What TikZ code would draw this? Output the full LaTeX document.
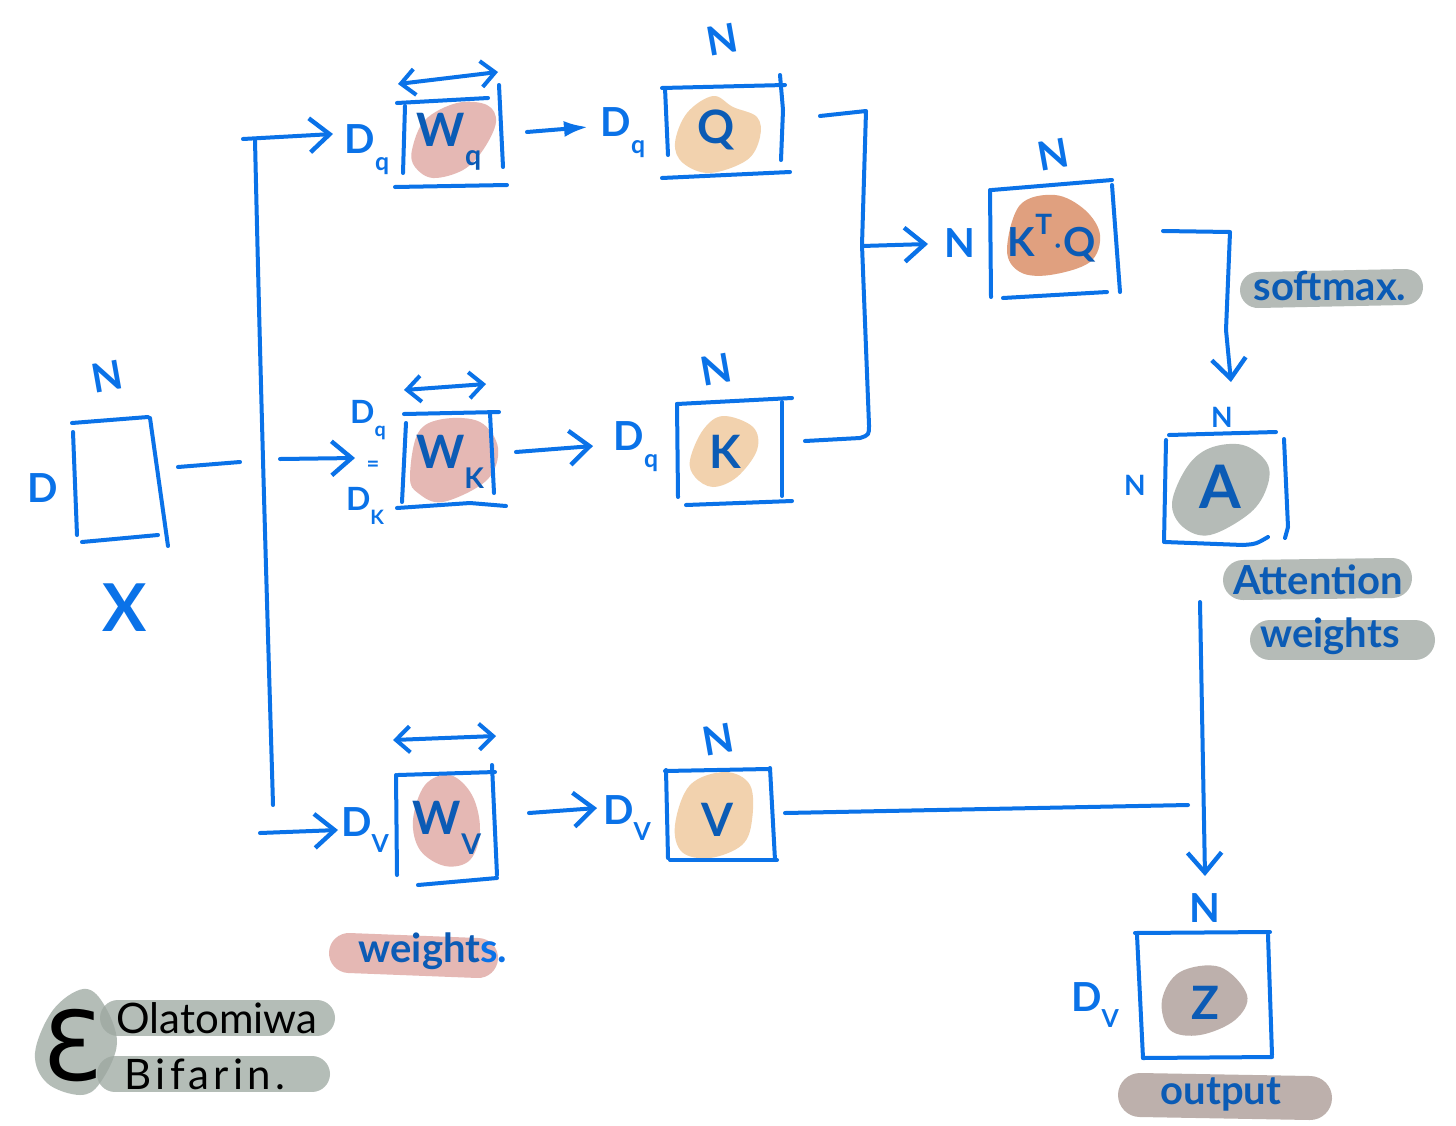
\documentclass[tikz,border=0pt]{standalone}
\usepackage{fontspec}
\setmainfont{Lato}
\usetikzlibrary{arrows.meta}
\definecolor{penblue}{HTML}{0A72E8}
\definecolor{inkblue}{HTML}{0B5BB5}
\definecolor{pinkblob}{HTML}{E5B8B4}
\definecolor{sandblob}{HTML}{F2D2AE}
\definecolor{clayblob}{HTML}{E0A07F}
\definecolor{greyblob}{HTML}{B5BBB7}
\definecolor{greybase}{HTML}{9CA7A0}
\definecolor{taupeblob}{HTML}{BDB0AC}
\newcommand{\lowtxt}[1]{\raisebox{-.42em}{\scalebox{.62}{#1}}}
\tikzset{
  x=0.5pt,y=-0.5pt,
  pen/.style={draw=penblue,line width=2pt,line cap=round,line join=round},
  flow/.style={pen,-{Straight Barb[length=10pt,width=17pt,line width=2.2pt]}},
  span/.style={pen,{Straight Barb[length=7pt,width=13pt]}-{Straight Barb[length=7pt,width=13pt]}},
  blob/.style={fill=#1,draw=none},
  pill/.style n args={2}{draw=#1,line width=#2,line cap=round},
  dim/.style={text=penblue,font=\bfseries\fontsize{20}{20}\selectfont,inner sep=0pt},
  big/.style={text=inkblue,font=\bfseries\fontsize{23}{23}\selectfont,inner sep=0pt},
  tag/.style={text=inkblue,font=\bfseries\fontsize{20}{20}\selectfont,inner sep=0pt},
  author/.style={text=black,font=\fontsize{21}{21}\selectfont,inner sep=0pt},
}
\begin{document}
\begin{tikzpicture}
\useasboundingbox (0,0) rectangle (1456,1125);
\fill[white] (0,0) rectangle (1456,1125);

% coloured blobs
\fill[blob=pinkblob] plot[smooth cycle,tension=.6] coordinates {(412,150)(425,120)(457,103)(487,105)(496,122)(483,150)(463,170)(433,178)(415,167)};
\fill[blob=sandblob] plot[smooth cycle,tension=.6] coordinates {(675,143)(687,113)(713,96)(733,107)(757,117)(760,137)(747,160)(710,173)(683,163)};
\fill[blob=pinkblob] plot[smooth cycle,tension=.6] coordinates {(410,477)(418,433)(443,419)(480,422)(498,448)(487,480)(443,502)(418,493)};
\fill[blob=sandblob] plot[smooth cycle,tension=.6] coordinates {(690,460)(703,430)(723,416)(753,427)(757,450)(737,477)(713,487)(695,477)};
\fill[blob=pinkblob] plot[smooth cycle,tension=.6] coordinates {(413,820)(425,785)(450,775)(472,795)(480,830)(470,860)(445,866)(420,850)};
\fill[blob=sandblob] plot[smooth cycle,tension=.6] coordinates {(675,825)(690,785)(725,772)(750,785)(752,820)(742,845)(710,858)(682,852)};
\fill[blob=clayblob] plot[smooth cycle,tension=.6] coordinates {(1007,250)(1020,205)(1055,195)(1085,210)(1100,235)(1090,262)(1050,275)(1020,272)};
\fill[blob=greyblob] plot[smooth cycle,tension=.6] coordinates {(1172,503)(1187,467)(1210,448)(1243,445)(1267,463)(1267,487)(1250,513)(1210,535)(1183,527)};
\fill[blob=taupeblob] plot[smooth cycle,tension=.6] coordinates {(1162,1000)(1180,972)(1220,967)(1247,995)(1235,1020)(1200,1035)(1170,1030)};

% pills behind captions
\draw[pill={greyblob}{18pt}] (1258,290) -- (1405,287);
\draw[pill={greyblob}{20pt}] (1243,580) -- (1392,578);
\draw[pill={greyblob}{20pt}] (1270,640) -- (1415,640);
\draw[pill={pinkblob}{20pt}] (349,953) -- (478,958);
\draw[pill={taupeblob}{22pt}] (1140,1095) -- (1310,1098);
\fill[greybase,opacity=.75] plot[smooth cycle,tension=.6] coordinates {(35,1053)(53,1010)(83,989)(103,1003)(117,1043)(100,1083)(80,1095)(47,1083)};
\draw[pill={greybase}{18pt},draw opacity=.75] (118,1018) -- (317,1018);
\draw[pill={greybase}{18pt},draw opacity=.75] (115,1074) -- (312,1074);

% hand-drawn boxes
% X
\draw[pen] (72,423) -- (148,417);
\draw[pen] (73,432) -- (77,535);
\draw[pen] (150,418) -- (168,546);
\draw[pen] (82,542) -- (158,535);
% Wq
\draw[pen] (397,103) -- (488,98);
\draw[pen] (405,106) -- (403,173);
\draw[pen] (499,85) -- (503,167);
\draw[pen] (395,187) -- (507,185);
% Q
\draw[pen] (662,88) -- (785,85);
\draw[pen] (665,88) -- (668,155);
\draw[pen] (780,75) -- (783,110) -- (781,160);
\draw[pen] (662,178) -- (790,172);
% Wk
\draw[pen] (404,414) -- (499,412);
\draw[pen] (406,423) -- (402,502);
\draw[pen] (490,413) -- (494,493);
\draw[pen] (397,508) -- (470,503) -- (506,506);
% K
\draw[pen] (677,404) -- (792,398);
\draw[pen] (677,404) -- (678,497);
\draw[pen] (782,402) -- (782,496);
\draw[pen] (686,505) -- (792,501);
% Wv
\draw[pen] (398,775) -- (495,772);
\draw[pen] (396,775) -- (397,875);
\draw[pen] (492,765) -- (497,875);
\draw[pen] (418,885) -- (497,878);
% V
\draw[pen] (665,771) -- (768,769);
\draw[pen] (666,770) -- (668,858);
\draw[pen] (770,768) -- (775,860);
\draw[pen] (670,860) -- (777,860);
% KQ
\draw[pen] (992,190) -- (1112,180);
\draw[pen] (990,190) -- (991,297);
\draw[pen] (1112,185) -- (1120,292);
\draw[pen] (1003,298) -- (1107,292);
% A
\draw[pen] (1169,435) -- (1276,432);
\draw[pen] (1166,440) -- (1164,542);
\draw[pen] (1284,439) -- (1288,527) -- (1285,538);
\draw[pen] (1165,542) -- (1243,545) .. controls (1256,544) .. (1268,537);
% Z
\draw[pen] (1135,933) -- (1270,932);
\draw[pen] (1137,935) -- (1143,1058);
\draw[pen] (1268,935) -- (1272,1055);
\draw[pen] (1143,1058) -- (1272,1057);

% connector anchors
\coordinate (xout) at (178,467);
\coordinate (xstub) at (240,462);
\coordinate (trunktop) at (243,139);
\coordinate (trunkhead) at (333,134);
\coordinate (trunkstart) at (255,140);
\coordinate (trunkend) at (273,805);
\coordinate (kin) at (280,459);
\coordinate (kinhead) at (355,458);
\coordinate (vin) at (260,833);
\coordinate (vinhead) at (338,830);
\coordinate (wqout) at (527,132);
\coordinate (qin) at (588,127);
\coordinate (wkout) at (516,452);
\coordinate (kbox) at (593,446);
\coordinate (wvout) at (529,813);
\coordinate (vbox) at (597,808);
\coordinate (qout) at (820,116);
\coordinate (qturn) at (866,111);
\coordinate (kout) at (805,441);
\coordinate (kturn) at (860,438);
\coordinate (merge) at (862,246);
\coordinate (mergehead) at (928,244);
\coordinate (kqout) at (1163,231);
\coordinate (kqturn) at (1230,232);
\coordinate (ain) at (1231,382);
\coordinate (aout) at (1200,602);
\coordinate (zin) at (1205,876);
\coordinate (vout) at (785,813);
\coordinate (vend) at (1188,805);

% connectors
\draw[pen] (xout) -- (xstub);
\draw[flow] (trunktop) -- (trunkhead);
\draw[pen] (trunkstart) .. controls (262,450) and (270,700) .. (trunkend);
\draw[flow] (kin) -- (kinhead);
\draw[flow] (vin) -- (vinhead);
\draw[pen,-{Latex[length=12pt,width=8pt]}] (wqout) -- (qin);
\draw[flow] (wkout) -- (kbox);
\draw[flow] (wvout) -- (vbox);
\draw[pen] (qout) -- (qturn) -- (862,245) -- (869,425) .. controls (869,435) .. (kturn) -- (kout);
\draw[flow] (merge) -- (mergehead);
\draw[flow] (kqout) -- (kqturn) -- (1226,330) -- (ain);
\draw[flow] (aout) -- (zin);
\draw[pen] (vout) -- (vend);

% span arrows above weight boxes
\coordinate (sq1) at (398,84);
\coordinate (sq2) at (498,72);
\coordinate (sk1) at (404,390);
\coordinate (sk2) at (486,384);
\coordinate (sv1) at (393,740);
\coordinate (sv2) at (496,736);
\draw[span] (sq1) -- (sq2);
\draw[span] (sk1) -- (sk2);
\draw[span] (sv1) -- (sv2);

% dimension labels
\node[dim,rotate=10] (nx) at (107,377) {N};
\node[dim] (dx) at (43,488) {D};
\node[dim,font=\bfseries\fontsize{33}{33}\selectfont] (xlabel) at (125,608) {X};
\node[dim] (dwq) at (367,150) {D\lowtxt{q}};
\node[dim] (dq) at (623,133) {D\lowtxt{q}};
\node[dim,rotate=10] (nq) at (722,40) {N};
\node[dim,rotate=10] (nkq) at (1053,155) {N};
\node[dim] (nleftkq) at (960,243) {N};
\node[dim,font=\bfseries\fontsize{16}{16}\selectfont] (dwk1) at (368,420) {D\lowtxt{q}};
\node[dim,font=\bfseries\fontsize{11}{11}\selectfont] (eqk) at (373,466) {=};
\node[dim,font=\bfseries\fontsize{16}{16}\selectfont] (dwk2) at (365,506) {D\lowtxt{K}};
\node[dim] (dk) at (636,447) {D\lowtxt{q}};
\node[dim,rotate=10] (nk) at (716,370) {N};
\node[dim] (dwv) at (365,830) {D\lowtxt{V}};
\node[dim] (dv) at (627,818) {D\lowtxt{V}};
\node[dim,rotate=10] (nv) at (718,740) {N};
\node[dim,font=\bfseries\fontsize{14}{14}\selectfont] (na) at (1222,417) {N};
\node[dim,font=\bfseries\fontsize{14}{14}\selectfont] (nla) at (1135,485) {N};
\node[dim] (nz) at (1205,908) {N};
\node[dim] (dz) at (1095,1005) {D\lowtxt{V}};

% matrix letters
\node[big] (wq) at (449,142) {W\lowtxt{q}};
\node[big] (q) at (716,130) {Q};
\node[big] (wk) at (450,462) {W\lowtxt{K}};
\node[big] (k) at (725,452) {K};
\node[big] (wv) at (447,828) {W\lowtxt{V}};
\node[big] (v) at (717,820) {V};
\node[big,font=\bfseries\fontsize{20}{20}\selectfont] (kq) at (1052,238) {K\raisebox{.55em}{\scalebox{.7}{T}}$\cdot$Q};
\node[big,font=\bfseries\fontsize{30}{30}\selectfont] (a) at (1220,487) {A};
\node[big] (z) at (1205,1003) {Z};

% captions
\node[tag] (softmax) at (1330,286) {softmax.};
\node[tag] (attn) at (1318,580) {Attention};
\node[tag] (wts) at (1330,636) {weights};
\node[tag] (wtsb) at (433,951) {\textcolor{inkblue}{weight}\textcolor{penblue}{s.}};
\node[tag] (output) at (1221,1094) {output};
\node[author] (first) at (217,1018) {Olatomiwa};
\node[author] (second) at (205,1074) {\addfontfeature{LetterSpace=10}Bifarin.};
\node[text=black,inner sep=0pt,font=\fontsize{48}{48}\selectfont] (logo) at (72,1046) {\fontspec{DejaVu Sans}Ɛ};
\end{tikzpicture}
\end{document}
